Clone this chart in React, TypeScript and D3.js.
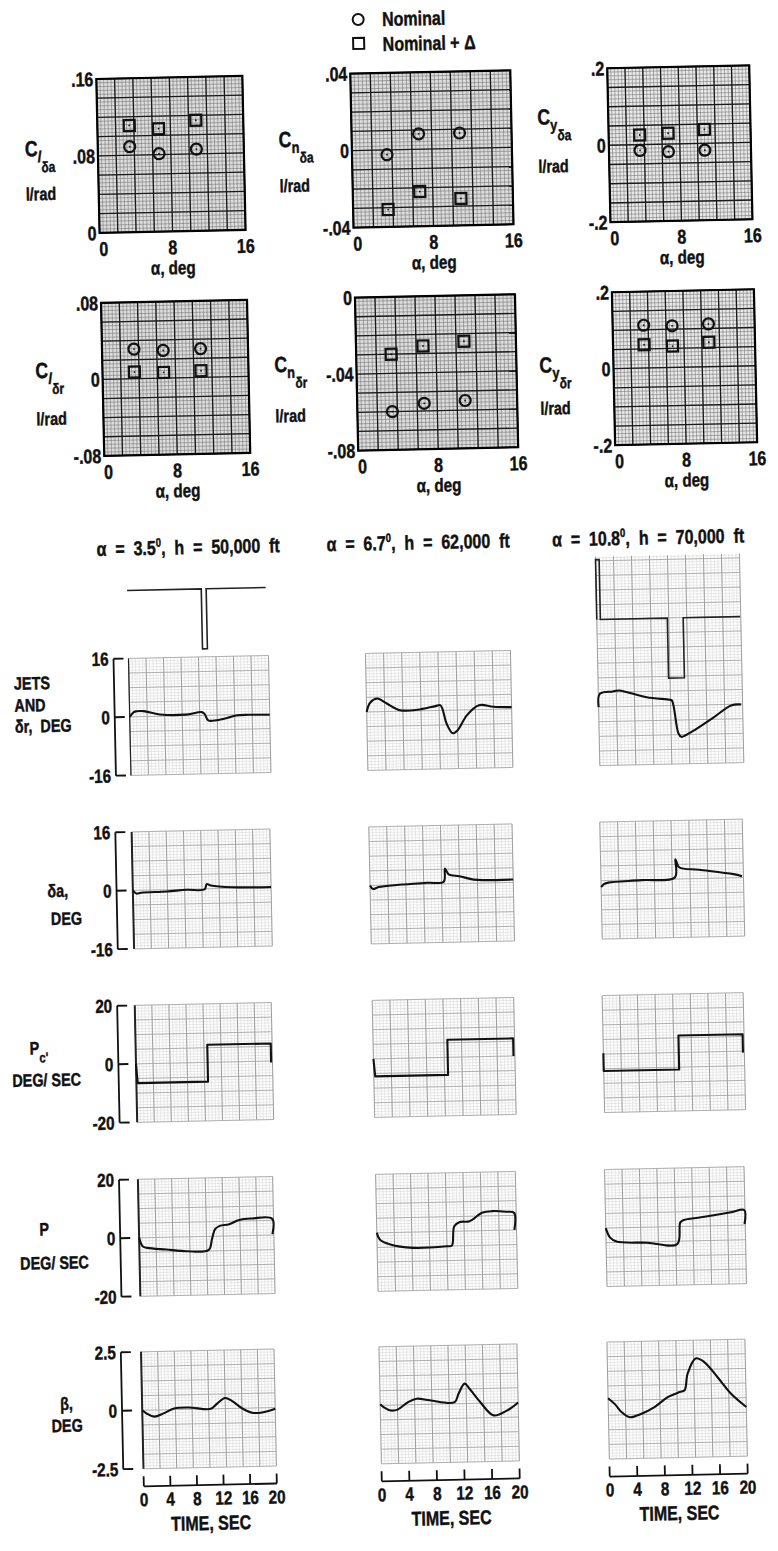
import React from 'react';
import * as d3 from 'd3';

type Pt = [number, number];

// ---------------- control derivatives vs angle of attack ----------------
const alphaDeg = [3.5, 6.7, 10.8];
const clDaNom = [0.089, 0.081, 0.085];
const clDaDelta = [0.111, 0.107, 0.115];
const cnDaNom = [-0.0025, 0.008, 0.008];
const cnDaDelta = [-0.031, -0.022, -0.026];
const cyDaNom = [-0.015, -0.02, -0.018];
const cyDaDelta = [0.025, 0.028, 0.036];
const clDrNom = [0.031, 0.029, 0.03];
const clDrDelta = [0.007, 0.006, 0.007];
const cnDrNom = [-0.06, -0.056, -0.055];
const cnDrDelta = [-0.03, -0.026, -0.024];
const cyDrNom = [0.112, 0.109, 0.112];
const cyDrDelta = [0.061, 0.056, 0.064];
const alphaTicks = [0, 8, 16];

// ---------------- time histories (t in sec, value in axis units) ----------------
const headerAlpha = ['3.5', '6.7', '10.8'];
const headerAlt = ['50,000', '62,000', '70,000'];
const timeTicks = [0, 4, 8, 12, 16, 20];

// jets on/off trace (+1 / -1 pulses)
const jetsA35: Pt[] = [[0, 0], [10.6, 0], [10.6, -1], [11.3, -1], [11.3, 0], [19.8, 0]];
const jetsA108: Pt[] = [[0, 0], [0, 1], [0.5, 1], [0.5, 0], [9.8, 0], [9.8, -1], [12, -1], [12, 0], [19.9, 0]];

// rudder, deg
const drA35: Pt[] = [[0, 0], [0.6, 1.3], [1, 1.5], [2, 1.5], [4.3, 0.5], [8, 0.3], [10.3, 0.9], [10.7, 0.4], [11.2, -1.4], [12.4, -1.4], [14, -0.8], [15.2, -0.2], [17, -0.1], [20, -0.2]];
const drA67: Pt[] = [[0, 0], [0.5, 2.5], [1.5, 3.6], [2.8, 2.2], [4.6, 0.3], [7, 0.3], [9.5, 1.2], [10.2, 1.4], [11, -3.7], [11.8, -6.3], [12.5, -5.5], [13.8, -1.5], [15.5, 1.2], [17.5, 0.7], [20, 0.5]];
const drA108: Pt[] = [[0, 0], [0.2, 3.6], [2, 4.2], [2.9, 4.4], [6.7, 2.4], [9.9, 1.6], [10.2, 1.4], [11, -7.6], [11.4, -8.6], [12, -8.2], [13.2, -6.9], [16, -3.4], [18.4, -0.3], [19.8, -0.1]];

// aileron, deg
const daA35: Pt[] = [[0, 0], [0.5, -0.9], [1.2, -0.7], [4.9, -0.5], [7.8, -0.15], [10.4, -0.1], [10.7, 1.3], [11.3, 0.9], [14.4, 0.3], [20, 0.1]];
const daA67: Pt[] = [[0, 0], [0.4, -1], [1.2, -0.5], [4, 0], [8, 0.4], [10.3, 0.6], [10.5, 4.2], [11, 2.6], [12.5, 2], [14.5, 1], [16, 0.8], [20, 0.8]];
const daA108: Pt[] = [[0, -1.8], [0.4, -1], [1, -0.6], [5.7, -0.1], [10.4, 0.5], [10.5, 5.4], [11, 3.2], [13.8, 2.4], [18.6, 1], [19.8, 0.4]];

// commanded roll rate, deg/sec
const pcA35: Pt[] = [[0, 0], [0.2, -6.6], [10.5, -6.6], [10.5, 6], [19.8, 6], [19.8, -0.5]];
const pcA67: Pt[] = [[0, 0], [0.2, -6], [10.5, -6], [10.5, 6], [19.8, 6], [19.8, 0]];
const pcA108: Pt[] = [[0, 0.3], [0, -5.8], [10.7, -5.8], [10.7, 5.8], [19.8, 5.8], [19.8, -0.5]];

// roll rate, deg/sec
const pA35: Pt[] = [[0, 0], [0.5, -2.9], [1.2, -3.5], [4, -4.2], [7, -4.9], [10.3, -4.6], [10.8, -1], [11.3, 2.4], [12, 3.5], [13.4, 4], [14.9, 5.4], [16.8, 5.8], [19.8, 5.6], [19.8, 0.3]];
const pA67: Pt[] = [[0, 0], [0.4, -2.3], [1.9, -4.1], [5.1, -5.4], [10, -5.1], [10.7, -4.9], [11.1, 1.7], [11.9, 3.1], [13.3, 3.3], [15.1, 6.1], [16.6, 6.6], [18.6, 6.3], [19.7, 5.9], [19.7, 0]];
const pA108: Pt[] = [[0, 0], [0.6, -3.3], [1.5, -4.7], [5.9, -5.3], [10.2, -6], [10.7, 1.4], [11.2, 2.2], [13.7, 3], [18, 4.5], [19.9, 5.2], [19.9, 0.4]];

// sideslip, deg
const betaA35: Pt[] = [[0, 0], [0.7, -0.15], [1.8, -0.28], [3.2, -0.15], [4.8, 0.05], [7, 0.08], [10.3, 0], [11.2, 0.2], [12.5, 0.45], [13.5, 0.32], [15, 0], [16.5, -0.2], [18, -0.2], [20, -0.05]];
const betaA67: Pt[] = [[0, 0.05], [0.6, -0.1], [1.5, -0.23], [2.5, -0.2], [4, 0.1], [5.3, 0.25], [7.2, 0.17], [10.8, 0.07], [11.4, 0.43], [12.3, 0.85], [13, 0.63], [14.5, 0.05], [16.4, -0.53], [18.4, -0.33], [20, 0]];
const betaA108: Pt[] = [[0, 0.1], [1, -0.17], [1.9, -0.5], [3.1, -0.73], [4.8, -0.59], [6.7, -0.32], [8.7, 0.1], [10.4, 0.3], [11.1, 0.37], [11.6, 1.08], [12.8, 1.72], [14, 1.57], [15.9, 0.91], [17.8, 0.19], [20, -0.4]];

// ---------------- layout ----------------
const W = 778;
const H = 1551;
const ROT = -1.2; // the scanned page is slightly tilted
const FONT = "'Liberation Sans', Arial, sans-serif";
const NARROW = 0.8; // horizontal squeeze to get the condensed typewriter look

const SC_COLS = [[111, 257], [365, 525], [622, 764]];
const SC_ROWS = [[73, 227], [297, 450]];

const scatterPanels = [
  { sub: 'l', sub2: 'δa', dom: [0, 0.16], ticks: [0.16, 0.08, 0], tickText: ['.16', '.08', '0'], nom: clDaNom, dlt: clDaDelta, c: 0, r: 0, lab: [38, 149, 193] },
  { sub: 'n', sub2: 'δa', dom: [-0.04, 0.04], ticks: [0.04, 0, -0.04], tickText: ['.04', '0', '-.04'], nom: cnDaNom, dlt: cnDaDelta, c: 1, r: 0, lab: [292, 145, 190] },
  { sub: 'y', sub2: 'δa', dom: [-0.2, 0.2], ticks: [0.2, 0, -0.2], tickText: ['.2', '0', '-.2'], nom: cyDaNom, dlt: cyDaDelta, c: 2, r: 0, lab: [551, 128, 176] },
  { sub: 'l', sub2: 'δr', dom: [-0.08, 0.08], ticks: [0.08, 0, -0.08], tickText: ['.08', '0', '-.08'], nom: clDrNom, dlt: clDrDelta, c: 0, r: 1, lab: [44, 371, 418] },
  { sub: 'n', sub2: 'δr', dom: [-0.08, 0], ticks: [0, -0.04, -0.08], tickText: ['0', '-.04', '-.08'], nom: cnDrNom, dlt: cnDrDelta, c: 1, r: 1, lab: [283, 370, 420] },
  { sub: 'y', sub2: 'δr', dom: [-0.2, 0.2], ticks: [0.2, 0, -0.2], tickText: ['.2', '0', '-.2'], nom: cyDrNom, dlt: cyDrDelta, c: 2, r: 1, lab: [548, 376, 418] },
];

const TH_TOP = [653, 826.5, 1000, 1174, 1346.5];
const TH_H = 117;
const TH_L0 = [131, 368, 600];
const TH_L4 = [129, 367, 595];
const TH_R0 = [271, 513, 744];
const TH_R4 = [262, 505, 733];
const JETS_BASE = [585, 0, 624];
const JETS_AMP = 60;
const TIME_AXIS_Y = 1481;

const rows = [
  { dom: [-16, 16], ticks: [16, 0, -16], tickText: ['16', '0', '-16'], series: [drA35, drA67, drA108], step: false },
  { dom: [-16, 16], ticks: [16, 0, -16], tickText: ['16', '0', '-16'], series: [daA35, daA67, daA108], step: false },
  { dom: [-20, 20], ticks: [20, 0, -20], tickText: ['20', '0', '-20'], series: [pcA35, pcA67, pcA108], step: true },
  { dom: [-20, 20], ticks: [20, 0, -20], tickText: ['20', '0', '-20'], series: [pA35, pA67, pA108], step: false },
  { dom: [-2.5, 2.5], ticks: [2.5, 0, -2.5], tickText: ['2.5', '0', '-2.5'], series: [betaA35, betaA67, betaA108], step: false },
];
const jetsSeries = [jetsA35, null, jetsA108];

const rowLabels = [
  [{ t: 'JETS', x: 16, y: 682 }, { t: 'AND', x: 16, y: 704 }, { t: 'δr,  DEG', x: 16, y: 725 }],
  [{ t: 'δa,', x: 45, y: 890 }, { t: 'DEG', x: 48, y: 918 }],
  [{ t: 'P', x: 24, y: 1047, sub: "c'" }, { t: 'DEG/ SEC', x: 6, y: 1079 }],
  [{ t: 'P', x: 30, y: 1228 }, { t: 'DEG/ SEC', x: 10, y: 1262 }],
  [{ t: 'β,', x: 47, y: 1403 }, { t: 'DEG', x: 38, y: 1425 }],
];

function colX(c: number, r: number) {
  const k = r / 4;
  return [TH_L0[c] + (TH_L4[c] - TH_L0[c]) * k, TH_R0[c] + (TH_R4[c] - TH_R0[c]) * k];
}

// condensed bold text, slightly stroked to mimic the heavy scan
function T({ x, y, size, anchor, dy, children }: any) {
  return (
    <text transform={`translate(${x},${y}) scale(${NARROW},1)`} fontSize={size} fontWeight="bold"
      textAnchor={anchor || 'start'} dy={dy} stroke="#111" strokeWidth={0.45} style={{ whiteSpace: 'pre' }}>
      {children}
    </text>
  );
}

function Scatter({ p }: { p: any }) {
  const [x0, x1] = SC_COLS[p.c];
  const [y0, y1] = SC_ROWS[p.r];
  const xs = d3.scaleLinear().domain([0, 16]).range([x0, x1]);
  const ys = d3.scaleLinear().domain(p.dom).range([y1, y0]);
  const span = p.dom[1] - p.dom[0];
  const minorX = d3.range(41).map(i => i * 0.4);
  const majorX = d3.range(9).map(i => i * 2);
  const minorY = d3.range(41).map(i => p.dom[0] + (i * span) / 40);
  const majorY = d3.range(9).map(i => p.dom[0] + (i * span) / 8);
  const cx = (x0 + x1) / 2;
  const bg = p.c === 2 ? '#e8e8e8' : '#dcdcdc';
  return (
    <g>
      <rect x={x0} y={y0} width={x1 - x0} height={y1 - y0} fill={bg} />
      {minorX.map((v, i) => <line key={'mx' + i} x1={xs(v)} x2={xs(v)} y1={y0} y2={y1} stroke="#6a6a6a" strokeWidth={0.5} />)}
      {minorY.map((v, i) => <line key={'my' + i} x1={x0} x2={x1} y1={ys(v)} y2={ys(v)} stroke="#6a6a6a" strokeWidth={0.5} />)}
      {majorX.map((v, i) => <line key={'Mx' + i} x1={xs(v)} x2={xs(v)} y1={y0} y2={y1} stroke="#1a1a1a" strokeWidth={1.3} />)}
      {majorY.map((v, i) => <line key={'My' + i} x1={x0} x2={x1} y1={ys(v)} y2={ys(v)} stroke="#1a1a1a" strokeWidth={1.3} />)}
      <rect x={x0} y={y0} width={x1 - x0} height={y1 - y0} fill="none" stroke="#000" strokeWidth={2.2} />
      {p.ticks.map((v: number, i: number) => (
        <T key={'yt' + i} x={x0 - 3} y={ys(v)} dy="0.36em" anchor="end" size={20}>{p.tickText[i]}</T>
      ))}
      {alphaTicks.map((v, i) => (
        <T key={'xt' + i} x={xs(v) + (i === 0 ? 4 : 0)} y={y1 + 23} anchor="middle" size={20}>{v}</T>
      ))}
      <T x={cx} y={y1 + 43} anchor="middle" size={19}>α, deg</T>
      <T x={p.lab[0]} y={p.lab[1]} size={22}>
        C<tspan fontSize={16} dy={6} fontStyle={p.sub === 'l' ? 'italic' : 'normal'}>{p.sub}</tspan>
        <tspan fontSize={15} dy={10}>{p.sub2}</tspan>
      </T>
      <T x={p.lab[0]} y={p.lab[2]} size={18}>l/rad</T>
      {alphaDeg.map((a, i) => (
        <g key={'n' + i}>
          <circle cx={xs(a)} cy={ys(p.nom[i])} r={5.5} fill="none" stroke="#111" strokeWidth={2.2} />
          <circle cx={xs(a)} cy={ys(p.nom[i])} r={0.9} fill="#111" />
        </g>
      ))}
      {alphaDeg.map((a, i) => (
        <g key={'d' + i}>
          <rect x={xs(a) - 5.5} y={ys(p.dlt[i]) - 5.5} width={11} height={11} fill="none" stroke="#111" strokeWidth={2.2} />
          <circle cx={xs(a)} cy={ys(p.dlt[i])} r={0.9} fill="#111" />
        </g>
      ))}
    </g>
  );
}

function TimePanel({ c, r }: { c: number, r: number }) {
  const row = rows[r];
  const [x0, x1] = colX(c, r);
  const top = TH_TOP[r];
  const bot = top + TH_H;
  const xs = d3.scaleLinear().domain([0, 20]).range([x0, x1]);
  const ys = d3.scaleLinear().domain(row.dom).range([bot, top]);
  const gridTop = r === 0 && c === 2 ? 561 : top;
  const minorX = d3.range(41).map(i => i * 0.5);
  const majorX = d3.range(9).map(i => i * 2.5);
  const nMinorY = Math.round(((bot - gridTop) / TH_H) * 40);
  const minorY = d3.range(nMinorY + 1).map(i => bot - (i * TH_H) / 40);
  const majorY = d3.range(Math.floor(nMinorY / 5) + 1).map(i => bot - (i * TH_H) / 8);
  const curve = row.step ? d3.curveLinear : d3.curveCatmullRom.alpha(0.5);
  const path = d3.line<Pt>().x(d => xs(d[0])).y(d => ys(d[1])).curve(curve)(row.series[c]) || '';
  const jets = r === 0 ? jetsSeries[c] : null;
  let jetsPath = '';
  if (jets) {
    const js = d3.scaleLinear().domain([-1, 1]).range([JETS_BASE[c] + JETS_AMP, JETS_BASE[c] - JETS_AMP]);
    jetsPath = d3.line<Pt>().x(d => xs(d[0])).y(d => js(d[1]))(jets) || '';
  }
  const bx = 116 - 1.8 * r;
  return (
    <g>
      {minorX.map((v, i) => <line key={'mx' + i} x1={xs(v)} x2={xs(v)} y1={gridTop} y2={bot} stroke="#d4d4d4" strokeWidth={0.5} />)}
      {minorY.map((y, i) => <line key={'my' + i} x1={x0} x2={x1} y1={y} y2={y} stroke="#d4d4d4" strokeWidth={0.5} />)}
      {majorX.map((v, i) => <line key={'Mx' + i} x1={xs(v)} x2={xs(v)} y1={gridTop} y2={bot} stroke="#8c8c8c" strokeWidth={0.8} />)}
      {majorY.map((y, i) => <line key={'My' + i} x1={x0} x2={x1} y1={y} y2={y} stroke="#9a9a9a" strokeWidth={0.7} />)}
      {c === 0 && <line x1={x0} x2={x0} y1={top} y2={bot} stroke="#222" strokeWidth={r === 0 ? 1.2 : 2} />}
      {jetsPath && <path d={jetsPath} fill="none" stroke="#222" strokeWidth={1.6} />}
      <path d={path} fill="none" stroke="#111" strokeWidth={2.1} strokeLinejoin="round" />
      {c === 0 && (
        <g>
          <line x1={bx} x2={bx} y1={top} y2={bot} stroke="#111" strokeWidth={1.8} />
          {row.ticks.map((v, i) => (
            <g key={'t' + i}>
              <line x1={bx} x2={bx + 10} y1={ys(v)} y2={ys(v)} stroke="#111" strokeWidth={1.8} />
              <T x={bx - 5} y={ys(v)} dy="0.36em" anchor="end" size={19}>{row.tickText[i]}</T>
            </g>
          ))}
        </g>
      )}
      {r === 4 && (
        <g>
          <line x1={xs(0)} x2={xs(20)} y1={TIME_AXIS_Y} y2={TIME_AXIS_Y} stroke="#111" strokeWidth={1.8} />
          {timeTicks.map(t => (
            <g key={'tt' + t}>
              <line x1={xs(t)} x2={xs(t)} y1={TIME_AXIS_Y} y2={TIME_AXIS_Y - 10} stroke="#111" strokeWidth={1.8} />
              <T x={xs(t)} y={TIME_AXIS_Y + 20} anchor="middle" size={19}>{t}</T>
            </g>
          ))}
          <T x={xs(10)} y={TIME_AXIS_Y + 45} anchor="middle" size={20}>TIME, SEC</T>
        </g>
      )}
    </g>
  );
}

export default function App() {
  const headerX = [193, 423, 653];
  return (
    <svg width={W} height={H} style={{ position: 'absolute', left: 0, top: 0, background: '#fff' }} fontFamily={FONT} fill="#111">
      <rect width={W} height={H} fill="#fff" />
      <g transform={`rotate(${ROT} ${W / 2} ${H / 2})`}>
        {/* legend */}
        <circle cx={374} cy={19} r={5.5} fill="none" stroke="#111" strokeWidth={2} />
        <T x={398} y={26} size={20}>Nominal</T>
        <rect x={368.5} y={37.5} width={11} height={11} fill="none" stroke="#111" strokeWidth={2} />
        <T x={398} y={51} size={20}>Nominal + Δ</T>

        {scatterPanels.map((p, i) => <Scatter key={i} p={p} />)}

        {headerAlpha.map((a, i) => (
          <T key={'h' + i} x={headerX[i]} y={550} anchor="middle" size={20}>
            {'α  =  ' + a}<tspan dy={-8} fontSize={12}>0</tspan><tspan dy={8}>{',  h  =  ' + headerAlt[i] + '  ft'}</tspan>
          </T>
        ))}

        {rows.map((_, r) => [0, 1, 2].map(c => <TimePanel key={r + '-' + c} c={c} r={r} />))}

        {rowLabels.map((lines, r) => lines.map((l: any, i) => (
          <T key={r + 'l' + i} x={l.x} y={l.y} size={18}>
            {l.t}{l.sub && <tspan dy={8} fontSize={14}>{l.sub}</tspan>}
          </T>
        )))}
      </g>
    </svg>
  );
}
